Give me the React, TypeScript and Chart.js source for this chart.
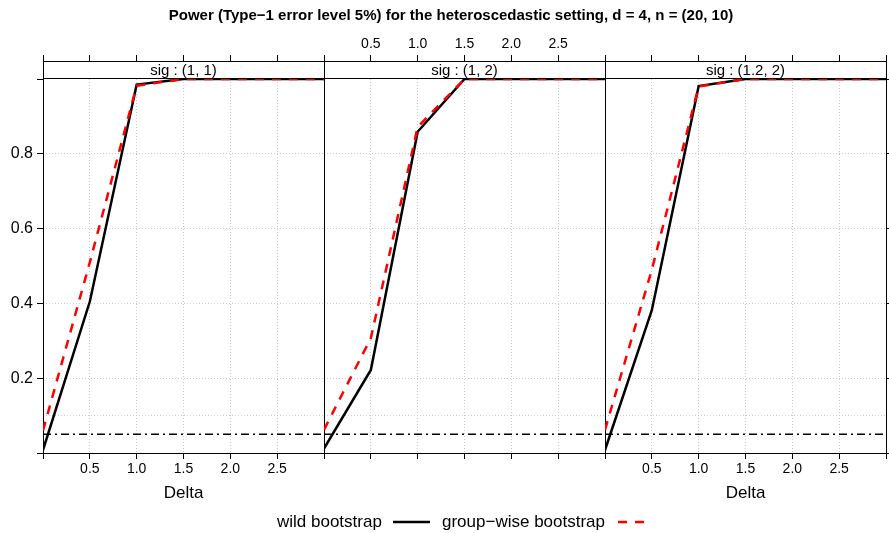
import React, { useEffect, useRef } from "react";
import { Chart, registerables } from "chart.js";

Chart.register(...registerables);

// ---------- data ----------
const DELTA = [0, 0.5, 1, 1.5, 2, 2.5, 3];
const PANEL_TITLES = ["sig : (1, 1)", "sig : (1, 2)", "sig : (1.2, 2)"];
const SERIES_NAMES = ["wild bootstrap", "group\u2212wise bootstrap"];

const WILD_SIG_1_1 = [0.008, 0.405, 0.985, 1, 1, 1, 1];
const GROUP_SIG_1_1 = [0.06, 0.51, 0.982, 1, 1, 1, 1];
const WILD_SIG_1_2 = [0.012, 0.222, 0.859, 1, 1, 1, 1];
const GROUP_SIG_1_2 = [0.062, 0.307, 0.872, 1, 1, 1, 1];
const WILD_SIG_12_2 = [0.008, 0.382, 0.981, 1, 1, 1, 1];
const GROUP_SIG_12_2 = [0.062, 0.49, 0.98, 1, 1, 1, 1];
const ALPHA = 0.05;

const WILD = [WILD_SIG_1_1, WILD_SIG_1_2, WILD_SIG_12_2];
const GROUP = [GROUP_SIG_1_1, GROUP_SIG_1_2, GROUP_SIG_12_2];

const X_TICKS = [0, 0.5, 1, 1.5, 2, 2.5, 3];
const X_LABELS = [0.5, 1, 1.5, 2, 2.5];
const Y_TICKS = [0, 0.1, 0.2, 0.4, 0.6, 0.8, 1];
const Y_GRID = [0.1, 0.2, 0.4, 0.6, 0.8];
const Y_TICK_MARKS = [0, 0.2, 0.4, 0.6, 0.8, 1];
const Y_LABELS = [0.2, 0.4, 0.6, 0.8];

const TITLE =
  "Power (Type\u22121 error level 5%) for the heteroscedastic setting, d = 4, n = (20, 10)";

// ---------- layout ----------
const W = 889;
const H = 533;
const TOP = 61;
const STRIP_H = 18;
const BOTTOM = 453;
const PANEL_LEFT = [43, 324, 605];
const PANEL_RIGHT = [324, 605, 886];
const X_TOP_H = 30;
const X_BOTTOM_H = 49;
const Y_MAX = 1 + STRIP_H / (BOTTOM - TOP - STRIP_H);
const FONT = "'Liberation Sans', Arial, Helvetica, sans-serif";
const GRID = "#cccccc";
const NONE = "rgba(0,0,0,0)";
const CLIP = { left: 0, right: 0, bottom: 0, top: -STRIP_H };

const fixTicks = (values: number[]) => (scale: any) => {
  scale.ticks = values.map((v) => ({ value: v }));
};

const panelPlugin = {
  id: "panel",
  beforeDatasetsDraw(chart: any, _args: any, opts: any) {
    const { ctx, chartArea: a } = chart;
    const y1 = Math.round(chart.scales.y.getPixelForValue(1));
    ctx.save();
    ctx.fillStyle = "#fff";
    ctx.fillRect(a.left, a.top, a.right - a.left, y1 - a.top);
    ctx.strokeStyle = "#000";
    ctx.lineWidth = 1;
    ctx.strokeRect(a.left + 0.5, a.top + 0.5, a.right - a.left, a.bottom - a.top);
    ctx.beginPath();
    ctx.moveTo(a.left, y1 - 0.5);
    ctx.lineTo(a.right + 1, y1 - 0.5);
    ctx.stroke();
    ctx.fillStyle = "#000";
    ctx.font = `15px ${FONT}`;
    ctx.textAlign = "center";
    ctx.textBaseline = "middle";
    ctx.fillText(opts.label, (a.left + a.right) / 2, (a.top + y1) / 2 + 1);
    ctx.restore();
  },
  afterDraw(chart: any, _args: any, opts: any) {
    if (!opts.main) return;
    const { ctx } = chart;
    const ds = chart.data.datasets;
    ctx.save();
    ctx.fillStyle = "#000";
    ctx.font = `bold 15px ${FONT}`;
    ctx.textAlign = "center";
    ctx.textBaseline = "middle";
    ctx.fillText(TITLE, 451, 16);

    const ly = 522;
    ctx.font = `17px ${FONT}`;
    ctx.textAlign = "left";
    ctx.fillText(SERIES_NAMES[0], 277, ly);
    ctx.fillText(SERIES_NAMES[1], 442, ly);
    const sample = (d: any, x0: number, x1: number) => {
      ctx.beginPath();
      ctx.strokeStyle = d.borderColor;
      ctx.lineWidth = d.borderWidth;
      ctx.setLineDash(d.borderDash || []);
      ctx.moveTo(x0, ly);
      ctx.lineTo(x1, ly);
      ctx.stroke();
    };
    sample(ds[0], 393, 430);
    sample(ds[1], 618, 646);
    ctx.restore();
  },
};

function makeConfig(i: number): any {
  const showBottom = i !== 1;
  const showTop = i === 1;
  const xLabel = (show: boolean) => (v: number) =>
    show && X_LABELS.includes(v) ? v.toFixed(1) : "";
  const xGridColor = (c: any) => (c.tick && X_LABELS.includes(c.tick.value) ? GRID : NONE);
  const yGridColor = (c: any) => (c.tick && Y_GRID.includes(c.tick.value) ? GRID : NONE);
  const yTickColor = (c: any) => (c.tick && Y_TICK_MARKS.includes(c.tick.value) ? "#000" : NONE);
  const yLeftW = i === 0 ? PANEL_LEFT[0] : 0;
  const yRightW = i === 2 ? W - PANEL_RIGHT[2] : 0;

  const tickFont = { family: FONT, size: 14 };
  const scales: any = {
    x: {
      type: "linear",
      position: "bottom",
      min: 0,
      max: 3,
      afterBuildTicks: fixTicks(X_TICKS),
      afterFit: (s: any) => {
        s.height = X_BOTTOM_H;
      },
      ticks: { autoSkip: false, maxRotation: 0, padding: 2, color: "#000", font: tickFont, callback: xLabel(showBottom) },
      grid: { color: xGridColor, lineWidth: 1, tickLength: 6, tickColor: "#000", tickWidth: 1 },
      border: { display: false, dash: [1, 2] },
      title: {
        display: showBottom,
        text: "Delta",
        color: "#000",
        font: { family: FONT, size: 17, lineHeight: 1 },
        padding: 0,
      },
    },
    xTop: {
      type: "linear",
      position: "top",
      min: 0,
      max: 3,
      afterBuildTicks: fixTicks(X_TICKS),
      afterFit: (s: any) => {
        s.height = X_TOP_H;
      },
      ticks: { autoSkip: false, maxRotation: 0, padding: 2, color: "#000", font: tickFont, callback: xLabel(showTop) },
      grid: { drawOnChartArea: false, tickLength: 6, tickColor: "#000", tickWidth: 1 },
      border: { display: false },
    },
    y: {
      type: "linear",
      position: "left",
      min: 0,
      max: Y_MAX,
      afterBuildTicks: fixTicks(Y_TICKS),
      afterFit: (s: any) => {
        s.width = yLeftW;
      },
      ticks: {
        display: i === 0,
        autoSkip: false,
        padding: 4,
        color: "#000",
        font: { family: FONT, size: 16 },
        callback: (v: number) => (Y_LABELS.includes(v) ? v.toFixed(1) : ""),
      },
      grid: { color: yGridColor, drawTicks: i === 0, tickLength: 6, tickColor: yTickColor, tickWidth: 1 },
      border: { display: false, dash: [1, 2] },
    },
  };
  if (i === 2) {
    scales.yR = {
      type: "linear",
      position: "right",
      min: 0,
      max: Y_MAX,
      afterBuildTicks: fixTicks(Y_TICKS),
      afterFit: (s: any) => {
        s.width = yRightW;
      },
      ticks: { display: false },
      grid: { drawOnChartArea: false, tickLength: 6, tickColor: yTickColor, tickWidth: 1 },
      border: { display: false },
    };
  }

  const pts = (vals: number[]) => DELTA.map((d, k) => ({ x: d, y: vals[k] }));

  return {
    type: "line",
    data: {
      datasets: [
        {
          label: SERIES_NAMES[0],
          data: pts(WILD[i]),
          borderColor: "#000000",
          borderWidth: 2.5,
          pointRadius: 0,
          tension: 0,
          clip: CLIP,
          order: 2,
        },
        {
          label: SERIES_NAMES[1],
          data: pts(GROUP[i]),
          borderColor: "#ff0000",
          borderWidth: 2.5,
          borderDash: [9, 8],
          pointRadius: 0,
          tension: 0,
          clip: CLIP,
          order: 1,
        },
        {
          label: "level",
          data: [
            { x: 0, y: ALPHA },
            { x: 3, y: ALPHA },
          ],
          borderColor: "#000000",
          borderWidth: 1.4,
          borderDash: [8, 4, 2, 4],
          pointRadius: 0,
          clip: CLIP,
          order: 3,
        },
      ],
    },
    options: {
      animation: false,
      responsive: false,
      devicePixelRatio: 1,
      events: [],
      layout: {
        padding: {
          left: PANEL_LEFT[i] - yLeftW,
          right: W - PANEL_RIGHT[i] - yRightW,
          top: TOP - X_TOP_H,
          bottom: H - BOTTOM - X_BOTTOM_H,
        },
      },
      scales,
      plugins: {
        legend: { display: false },
        tooltip: { enabled: false },
        panel: { label: PANEL_TITLES[i], main: i === 0 },
      },
    },
    plugins: [panelPlugin],
  };
}

export default function App() {
  const r0 = useRef<HTMLCanvasElement>(null);
  const r1 = useRef<HTMLCanvasElement>(null);
  const r2 = useRef<HTMLCanvasElement>(null);
  const refs = [r0, r1, r2];

  useEffect(() => {
    const charts = refs.map((r, i) => new Chart(r.current as HTMLCanvasElement, makeConfig(i)));
    return () => charts.forEach((c) => c.destroy());
  }, []);

  return (
    <div style={{ position: "absolute", left: 0, top: 0, width: W, height: H, background: "#fff" }}>
      {refs.map((r, i) => (
        <canvas
          key={i}
          ref={r}
          width={W}
          height={H}
          style={{ position: "absolute", left: 0, top: 0, width: W, height: H }}
        />
      ))}
    </div>
  );
}
